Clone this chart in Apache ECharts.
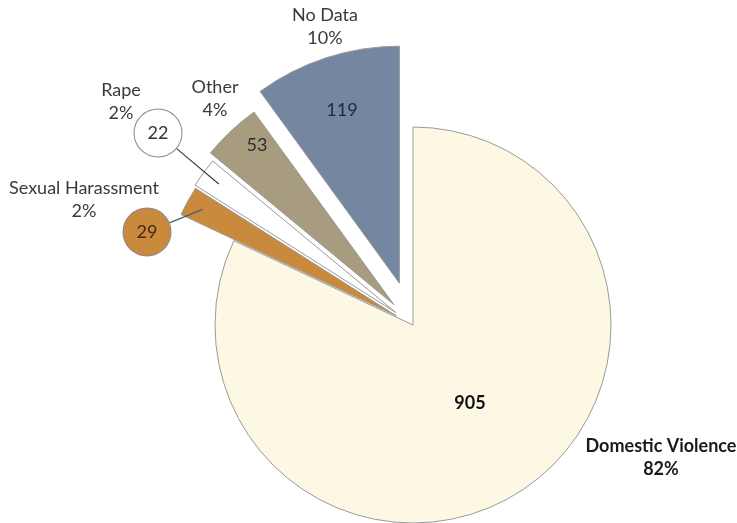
<!DOCTYPE html>
<html><head><meta charset="utf-8">
<script src="https://cdn.jsdelivr.net/npm/echarts@6/dist/echarts.min.js"></script>
<style>html,body{margin:0;padding:0;background:#fff}#chart{width:737px;height:523px}</style>
</head><body><div id="chart"></div>
<script>
// ---- data ----
const categories = ['Domestic Violence', 'Sexual Harassment', 'Rape', 'Other', 'No Data'];
const counts = [905, 29, 22, 53, 119];          // numbers printed on the slices
const percents = [82, 2, 2, 4, 10];             // slice shares, as printed
const percentLabels = ['82%', '2%', '2%', '4%', '10%'];

// ---- styles / layout ----
const sliceColors = ['#fdf8e3', '#c98a3e', '#ffffff', '#a89c80', '#7486a0'];
const sliceRadius = [198, 238, 238, 238, 237];
const sliceExplode = [0, 19, 21, 28, 44];
const pieCenter = [413, 325];
const valueLabelPos = [[470, 403], [147, 232], [158, 133], [257, 145], [342, 110]];
const nameLabelPos = [[661, 458], [84, 200], [121, 102], [215, 99], [325, 27]];
const valueIsCircle = [false, true, true, false, false];
const valueColors = ['#111111', '#4a2a10', '#333333', '#2b2b2b', '#1f2a40'];
const leaderEndRadius = 240;
const CIRCLE_D = 47;
const FONT = 'Lato';
const FS = 18;

const transparent = 'rgba(0,0,0,0)';

const sliceSeries = categories.map((_, i) => ({
  type: 'pie', center: pieCenter, radius: sliceRadius[i], startAngle: 90, clockwise: true,
  selectedMode: 'multiple', selectedOffset: sliceExplode[i], silent: true, animation: false,
  avoidLabelOverlap: false, emphasis: { disabled: true }, z: 2,
  label: { show: false }, labelLine: { show: false },
  data: categories.map((name, j) => ({
    name, value: percents[j], selected: j === i && sliceExplode[i] > 0,
    itemStyle: j === i
      ? { color: sliceColors[i], borderColor: '#9a9a9a', borderWidth: 1 }
      : { color: transparent, borderWidth: 0 }
  }))
}));

const valueSeries = {
  type: 'pie', center: pieCenter, radius: 238, startAngle: 90, clockwise: true, z: 6,
  silent: true, animation: false, avoidLabelOverlap: false, emphasis: { disabled: true },
  itemStyle: { color: transparent, borderWidth: 0 },
  label: { show: true, position: 'outside', fontFamily: FONT, fontSize: FS,
           formatter: p => String(counts[p.dataIndex]) },
  labelLine: { show: false, length: 8, length2: 0, smooth: false, lineStyle: { color: '#3f3f3f', width: 1.2 } },
  labelLayout: p => {
    const [cx, cy] = valueLabelPos[p.dataIndex];
    const out = { x: cx, y: cy, align: 'center', verticalAlign: 'middle' };
    if (valueIsCircle[p.dataIndex] && p.labelLinePoints) {
      // direction of the slice's mid-angle, taken from the library's own leader point
      const t = p.labelLinePoints[0];
      const dx = t[0] - pieCenter[0], dy = t[1] - pieCenter[1], dl = Math.hypot(dx, dy);
      const ex = pieCenter[0] + dx / dl * leaderEndRadius, ey = pieCenter[1] + dy / dl * leaderEndRadius;
      const vx = ex - cx, vy = ey - cy, len = Math.hypot(vx, vy);
      const rr = CIRCLE_D / 2;
      out.labelLinePoints = [[ex, ey], [cx + vx / len * rr, cy + vy / len * rr]];
    }
    return out;
  },
  data: categories.map((name, j) => ({
    name, value: percents[j],
    label: valueIsCircle[j]
      ? { color: valueColors[j], width: CIRCLE_D, height: CIRCLE_D, lineHeight: CIRCLE_D, align: 'center', verticalAlign: 'middle',
          backgroundColor: sliceColors[j], borderColor: '#8c8c8c', borderWidth: 1, borderRadius: CIRCLE_D / 2 }
      : { color: valueColors[j], fontWeight: j === 0 ? 'bold' : 'normal' },
    labelLine: { show: valueIsCircle[j], lineStyle: { color: j === 1 ? '#4d5a70' : '#3f3f3f' } }
  }))
};

const nameSeries = {
  type: 'pie', center: pieCenter, radius: 238, startAngle: 90, clockwise: true, z: 6,
  silent: true, animation: false, avoidLabelOverlap: false, emphasis: { disabled: true },
  itemStyle: { color: transparent, borderWidth: 0 },
  label: {
    show: true, position: 'outside', fontFamily: FONT, fontSize: FS, lineHeight: 23, color: '#3a3a3a', align: 'center',
    formatter: p => p.name + '\n' + percentLabels[p.dataIndex]
  },
  labelLine: { show: false },
  labelLayout: p => ({ x: nameLabelPos[p.dataIndex][0], y: nameLabelPos[p.dataIndex][1], align: 'center', verticalAlign: 'middle' }),
  data: categories.map((name, j) => ({
    name, value: percents[j],
    label: j === 0 ? { fontWeight: 'bold', color: '#1a1a1a' } : {}
  }))
};

const chart = echarts.init(document.getElementById('chart'), null, { renderer: 'canvas' });
chart.setOption({
  backgroundColor: '#ffffff',
  animation: false,
  series: [...sliceSeries, valueSeries, nameSeries]
});
</script>
</body></html>
